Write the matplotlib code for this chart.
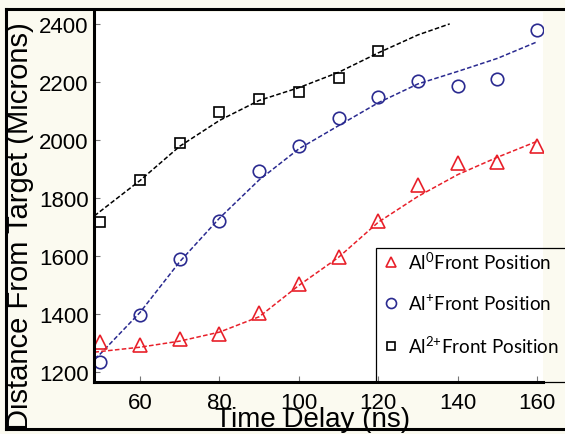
import numpy as np
import matplotlib.pyplot as plt
from matplotlib.lines import Line2D
from matplotlib.patches import Rectangle

# measured points
t_al2 = [50, 60, 70, 80, 90, 100, 110, 120]
d_al2 = [1717, 1860, 1990, 2095, 2141, 2164, 2213, 2308]

t_al1 = [50, 60, 70, 80, 90, 100, 110, 120, 130, 140, 150, 160]
d_al1 = [1233, 1395, 1588, 1720, 1892, 1978, 2076, 2147, 2204, 2185, 2210, 2379]

t_al0 = [50, 60, 70, 80, 90, 100, 110, 120, 130, 140, 150, 160]
d_al0 = [1302, 1291, 1314, 1329, 1402, 1503, 1595, 1720, 1845, 1921, 1923, 1980]

# fitted curves
fit_t2 = [48.5, 60, 70, 80, 90, 100, 110, 120, 130, 138]
fit_d2 = [1738, 1860, 1978, 2067, 2136, 2180, 2233, 2300, 2362, 2400]

fit_t1 = [48.5, 50, 60, 70, 80, 90, 100, 110, 120, 130, 140, 150, 160]
fit_d1 = [1245, 1262, 1405, 1580, 1730, 1862, 1969, 2049, 2128, 2193, 2236, 2281, 2338]

fit_t0 = [48.5, 60, 70, 80, 90, 100, 110, 120, 130, 140, 150, 160]
fit_d0 = [1268, 1285, 1306, 1337, 1390, 1498, 1595, 1716, 1805, 1880, 1940, 1995]

labels = [r'Al$^{0}$Front Position', r'Al$^{+}$Front Position', r'Al$^{2{+}}$Front Position']

red = '#e8202a'
navy = '#2a2a90'
bg = '#fbfaf0'

plt.rcParams['font.family'] = ['Liberation Sans', 'DejaVu Sans']
plt.rcParams['mathtext.fontset'] = 'custom'
plt.rcParams['mathtext.rm'] = 'Lato'

fig = plt.figure(figsize=(5.65, 4.35), dpi=100, facecolor=bg)
W, H = 565.0, 435.0
ax = fig.add_axes([94 / W, 1 - 383 / H, (543 - 94) / W, (383 - 13) / H])
ax.set_facecolor('white')

ax.plot(fit_t2, fit_d2, '--', color='black', lw=1.1, dashes=(3, 1.5))
ax.plot(fit_t1, fit_d1, '--', color=navy, lw=1.1, dashes=(3, 1.5))
ax.plot(fit_t0, fit_d0, '--', color=red, lw=1.1, dashes=(3, 1.5))

h0, = ax.plot(t_al0, d_al0, '^', mfc='none', mec=red, ms=9.5, mew=1.2, label=labels[0])
h1, = ax.plot(t_al1, d_al1, 'o', mfc='none', mec=navy, ms=9, mew=1.2, label=labels[1])
h2, = ax.plot(t_al2, d_al2, 's', mfc='none', mec='black', ms=7.5, mew=1.2, label=labels[2])

ax.set_xlim(48.4, 161.5)
ax.set_ylim(1165, 2441)
ax.set_xticks([60, 80, 100, 120, 140, 160])
ax.set_yticks([1200, 1400, 1600, 1800, 2000, 2200, 2400])
ax.tick_params(direction='in', length=4, width=0.8, color='#777777',
               labelsize=16, pad=4)
ax.tick_params(axis='x', pad=7)
for s in ['top', 'right']:
    ax.spines[s].set_visible(False)
for s in ['left', 'bottom']:
    ax.spines[s].set_linewidth(2.2)

ax.set_xlabel('Time Delay (ns)', fontsize=20)
ax.xaxis.set_label_coords(0.486, -0.066)
ax.set_ylabel('Distance From Target (Microns)', fontsize=21)
ax.yaxis.set_label_coords(-0.133, 0.424)

leg = ax.legend(handles=[h0, h1, h2], loc='upper left',
                bbox_to_anchor=(380 / W, 1 - 247 / H), bbox_transform=fig.transFigure,
                frameon=False, prop={'family': 'Lato', 'size': 13.5},
                markerscale=0.8, handlelength=0.8, handletextpad=0.5,
                labelspacing=1.12, borderpad=0.2, borderaxespad=0)
fig.add_artist(Rectangle((376 / W, 1 - 383 / H), 200 / W, 134 / H,
                         transform=fig.transFigure, fill=False,
                         edgecolor='black', lw=0.9, clip_on=False))

# frame round the figure
fig.add_artist(Line2D([5.5 / W, 5.5 / W], [1 - 9.5 / H, 1 - 430 / H],
                      transform=fig.transFigure, color='black', lw=2.2))
fig.add_artist(Line2D([5.5 / W, 1.0], [1 - 9.5 / H, 1 - 9.5 / H],
                      transform=fig.transFigure, color='black', lw=2.2))
fig.add_artist(Line2D([5.5 / W, 1.0], [1 - 430 / H, 1 - 430 / H],
                      transform=fig.transFigure, color='black', lw=2.2))

fig.savefig('out.png', dpi=100, facecolor=bg)
